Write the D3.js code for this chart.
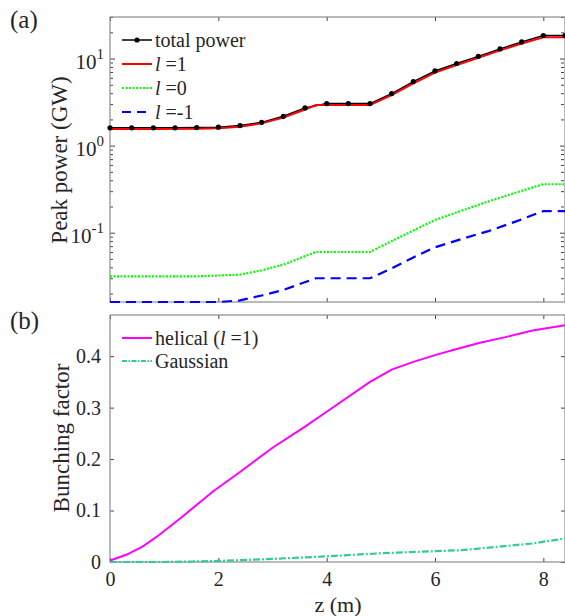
<!DOCTYPE html>
<html>
<head>
<meta charset="utf-8">
<script src="https://cdn.jsdelivr.net/npm/d3@7/dist/d3.min.js"></script>
<style>
  body { margin: 0; background: #fff; }
  text { font-family: "Liberation Serif", "Times New Roman", serif; fill: #262626; }
</style>
</head>
<body>
<script>
//data
//panel (a): peak power in GW along z (m)
var zTotal = [0, 0.4, 0.8, 1.2, 1.6, 2.0, 2.4, 2.8, 3.2, 3.6, 4.0, 4.4, 4.8, 5.2, 5.6, 6.0, 6.4, 6.8, 7.2, 7.6, 8.0, 8.4];
var totalPower = [1.6, 1.6, 1.6, 1.6, 1.61, 1.63, 1.7, 1.85, 2.17, 2.71, 3.04, 3.04, 3.04, 3.96, 5.44, 7.2, 8.77, 10.6, 12.9, 15.5, 18.4, 18.4];

var zL1 = [0, 0.8, 1.6, 2.0, 2.4, 2.8, 3.2, 3.6, 3.8, 4.8, 5.2, 5.6, 6.0, 6.4, 6.8, 7.2, 7.6, 8.0, 8.4];
var powerL1 = [1.55, 1.55, 1.56, 1.58, 1.65, 1.8, 2.1, 2.6, 2.92, 2.92, 3.8, 5.2, 6.9, 8.4, 10.2, 12.4, 14.9, 17.6, 17.6];

var zL0 = [0, 1.6, 2.4, 2.8, 3.2, 3.8, 4.8, 5.2, 5.6, 6.0, 6.5, 7.0, 7.5, 8.0, 8.4];
var powerL0 = [0.0315, 0.0315, 0.033, 0.037, 0.043, 0.06, 0.06, 0.08, 0.106, 0.14, 0.18, 0.23, 0.29, 0.36, 0.36];

var zLm1 = [0, 2.0, 2.4, 2.8, 3.2, 3.8, 4.8, 5.2, 5.6, 6.0, 6.5, 7.0, 7.5, 8.0, 8.4];
var powerLm1 = [0.016, 0.016, 0.0167, 0.019, 0.022, 0.030, 0.030, 0.039, 0.052, 0.068, 0.085, 0.105, 0.135, 0.177, 0.177];

//panel (b): bunching factor along z (m)
var zHelical = [0, 0.3, 0.6, 0.9, 1.3, 1.9, 2.4, 3.0, 3.6, 4.0, 4.8, 5.2, 5.6, 6.0, 6.4, 6.83, 7.3, 7.8, 8.4];
var bunchHelical = [0.003, 0.014, 0.03, 0.052, 0.085, 0.137, 0.175, 0.222, 0.263, 0.292, 0.35, 0.374, 0.389, 0.402, 0.414, 0.426, 0.437, 0.45, 0.46];

var zGauss = [0, 1.0, 1.5, 2.0, 3.0, 4.0, 5.0, 6.0, 6.5, 7.0, 7.8, 8.1, 8.4];
var bunchGauss = [0, 0, 0.001, 0.002, 0.006, 0.011, 0.017, 0.021, 0.023, 0.028, 0.036, 0.041, 0.0455];

//tick labels
var zTicks = [0, 2, 4, 6, 8];
var powerTicks = [0.1, 1, 10];
var powerExp = ["-1", "0", "1"];
var bunchTicks = [0, 0.1, 0.2, 0.3, 0.4];

//legend labels
var powerLegend = ["total power", "=1", "=0", "=-1"];
var bunchLegend = ["helical (", "Gaussian"];

(function() {

    var width = 565,
        height = 616,
        left = 110,
        right = 565;

    var svg = d3.select("body")
        .append("svg")
        .attr("width", width)
        .attr("height", height);

    //shared x scale
    var x = d3.scaleLinear()
        .domain([0, 8.4])
        .range([left, right]);

    //panel (a) log scale
    var yA = d3.scaleLog()
        .domain([0.016, 30])
        .range([302, 17]);

    //panel (b) linear scale
    var yB = d3.scaleLinear()
        .domain([0, 0.48])
        .range([562, 315]);

    //minor ticks for the log axis
    var minorTicks = [];
    [0.01, 0.1, 1, 10].forEach(function(dec) {
        for (var k = 2; k <= 9; k++) {
            var v = dec * k;
            if (v >= 0.016 && v <= 30) minorTicks.push(v);
        }
    });

    function drawFrame(yScale, top, bottom, isLog, showX) {
        var g = svg.append("g");

        //x ticks bottom and top, pointing inward
        var xb = g.append("g")
            .attr("transform", "translate(0," + bottom + ")")
            .call(d3.axisBottom(x).tickValues(zTicks).tickSizeInner(-4).tickSizeOuter(0).tickPadding(10).tickFormat(d3.format("d")));
        if (!showX) xb.selectAll("text").remove();
        g.append("g")
            .attr("transform", "translate(0," + top + ")")
            .call(d3.axisTop(x).tickValues(zTicks).tickSizeInner(-4).tickSizeOuter(0).tickFormat(""));

        if (isLog) {
            g.append("g")
                .attr("transform", "translate(" + left + ",0)")
                .call(d3.axisLeft(yScale).tickValues(powerTicks).tickSizeInner(-5).tickSizeOuter(0).tickFormat(""));
            g.append("g")
                .attr("transform", "translate(" + right + ",0)")
                .call(d3.axisRight(yScale).tickValues(powerTicks).tickSizeInner(-5).tickSizeOuter(0).tickFormat(""));
            g.append("g")
                .attr("transform", "translate(" + left + ",0)")
                .call(d3.axisLeft(yScale).tickValues(minorTicks).tickSizeInner(-3).tickSizeOuter(0).tickFormat(""));
            g.append("g")
                .attr("transform", "translate(" + (right - 1) + ",0)")
                .call(d3.axisRight(yScale).tickValues(minorTicks).tickSizeInner(-3).tickSizeOuter(0).tickFormat(""));

            //10^n labels with superscript
            var lab = g.selectAll(".powLabel")
                .data(powerTicks)
                .enter()
                .append("text")
                .attr("class", "powLabel")
                .attr("x", left - 6)
                .attr("y", function(d) { return yScale(d) + 10; })
                .attr("text-anchor", "end")
                .style("font-size", "21px");
            lab.append("tspan").text("10");
            lab.append("tspan")
                .attr("dy", -10)
                .style("font-size", "15px")
                .text(function(d, i) { return powerExp[i]; });
        } else {
            g.append("g")
                .attr("transform", "translate(" + left + ",0)")
                .call(d3.axisLeft(yScale).tickValues(bunchTicks).tickSizeInner(-4).tickSizeOuter(0).tickPadding(9)
                    .tickFormat(function(d) { return d === 0 ? "0" : d3.format(".1f")(d); }));
            g.append("g")
                .attr("transform", "translate(" + right + ",0)")
                .call(d3.axisRight(yScale).tickValues(bunchTicks).tickSizeInner(-4).tickSizeOuter(0).tickFormat(""));
        }

        g.selectAll(".domain").remove();
        g.selectAll(".tick line").attr("stroke", "#444");
        g.selectAll(".tick text")
            .style("font-size", "20px")
            .style("font-family", "Liberation Serif, serif")
            .attr("fill", "#262626");

        //box around the plot
        g.append("rect")
            .attr("x", left)
            .attr("y", top)
            .attr("width", right - left)
            .attr("height", bottom - top)
            .attr("fill", "none")
            .attr("stroke", "#8c8c8c")
            .attr("stroke-width", 1.2);
    }

    drawFrame(yA, 17, 302, true, false);
    drawFrame(yB, 315, 562, false, true);

    function pairs(xs, ys) {
        return xs.map(function(d, i) { return [d, ys[i]]; });
    }

    var lineA = d3.line()
        .x(function(d) { return x(d[0]); })
        .y(function(d) { return yA(d[1]); });

    var lineB = d3.line()
        .x(function(d) { return x(d[0]); })
        .y(function(d) { return yB(d[1]); });

    //panel (a) curves
    svg.append("path")
        .datum(pairs(zLm1, powerLm1))
        .attr("d", lineA)
        .attr("fill", "none")
        .attr("stroke", "#0000ff")
        .attr("stroke-width", 2.2)
        .attr("stroke-dasharray", "10,6");

    svg.append("path")
        .datum(pairs(zL0, powerL0))
        .attr("d", lineA)
        .attr("fill", "none")
        .attr("stroke", "#00ff00")
        .attr("stroke-width", 2.2)
        .attr("stroke-dasharray", "2,1.5");

    svg.append("path")
        .datum(pairs(zTotal, totalPower))
        .attr("d", lineA)
        .attr("fill", "none")
        .attr("stroke", "#000")
        .attr("stroke-width", 1.5);

    svg.append("path")
        .datum(pairs(zL1, powerL1))
        .attr("d", lineA)
        .attr("fill", "none")
        .attr("stroke", "#ff0000")
        .attr("stroke-width", 2);

    svg.selectAll(".dot")
        .data(pairs(zTotal, totalPower))
        .enter()
        .append("circle")
        .attr("class", "dot")
        .attr("cx", function(d) { return x(d[0]); })
        .attr("cy", function(d) { return yA(d[1]); })
        .attr("r", 2.6)
        .attr("fill", "#000");

    //panel (b) curves
    svg.append("path")
        .datum(pairs(zGauss, bunchGauss))
        .attr("d", lineB)
        .attr("fill", "none")
        .attr("stroke", "#33cc99")
        .attr("stroke-width", 2.2)
        .attr("stroke-dasharray", "7,2,2,2");

    svg.append("path")
        .datum(pairs(zHelical, bunchHelical))
        .attr("d", lineB)
        .attr("fill", "none")
        .attr("stroke", "#ff00ff")
        .attr("stroke-width", 2);

    //legend (a)
    var legA = [
        {color: "#000", dash: null, w: 1.5},
        {color: "#ff0000", dash: null, w: 2},
        {color: "#00ff00", dash: "2,1.5", w: 2.2},
        {color: "#0000ff", dash: "9,6", w: 2.2}
    ];
    legA.forEach(function(s, i) {
        var ly = 40 + i * 24;
        svg.append("line")
            .attr("x1", 122).attr("x2", 152)
            .attr("y1", ly).attr("y2", ly)
            .attr("stroke", s.color)
            .attr("stroke-width", s.w)
            .attr("stroke-dasharray", s.dash);
        if (i === 0) {
            svg.append("circle").attr("cx", 137).attr("cy", ly).attr("r", 2.6).attr("fill", "#000");
        }
        var t = svg.append("text")
            .attr("x", 155)
            .attr("y", ly + 7)
            .style("font-size", "20px");
        if (i > 0) {
            t.append("tspan").style("font-style", "italic").text("l");
            t.append("tspan").text(" " + powerLegend[i]);
        } else {
            t.text(powerLegend[i]);
        }
    });

    //legend (b)
    var legB = [
        {color: "#ff00ff", dash: null},
        {color: "#33cc99", dash: "5,1.5,1.5,1.5"}
    ];
    legB.forEach(function(s, i) {
        var ly = 338 + i * 23;
        svg.append("line")
            .attr("x1", 122).attr("x2", 152)
            .attr("y1", ly).attr("y2", ly)
            .attr("stroke", s.color)
            .attr("stroke-width", 2)
            .attr("stroke-dasharray", s.dash);
        var t = svg.append("text")
            .attr("x", 155)
            .attr("y", ly + 7)
            .style("font-size", "20px");
        t.append("tspan").text(bunchLegend[i]);
        if (i === 0) {
            t.append("tspan").style("font-style", "italic").text("l");
            t.append("tspan").text(" =1)");
        }
    });

    //axis titles
    svg.append("text")
        .attr("transform", "translate(67,160) rotate(-90)")
        .attr("text-anchor", "middle")
        .style("font-size", "23px")
        .text("Peak power (GW)");

    svg.append("text")
        .attr("transform", "translate(69,438) rotate(-90)")
        .attr("text-anchor", "middle")
        .style("font-size", "23px")
        .text("Bunching factor");

    svg.append("text")
        .attr("x", 338)
        .attr("y", 612)
        .attr("text-anchor", "middle")
        .style("font-size", "22px")
        .text("z (m)");

    //panel letters
    svg.append("text").attr("x", 10).attr("y", 28).style("font-size", "25px").text("(a)");
    svg.append("text").attr("x", 10).attr("y", 329).style("font-size", "25px").text("(b)");

})();
</script>
</body>
</html>
